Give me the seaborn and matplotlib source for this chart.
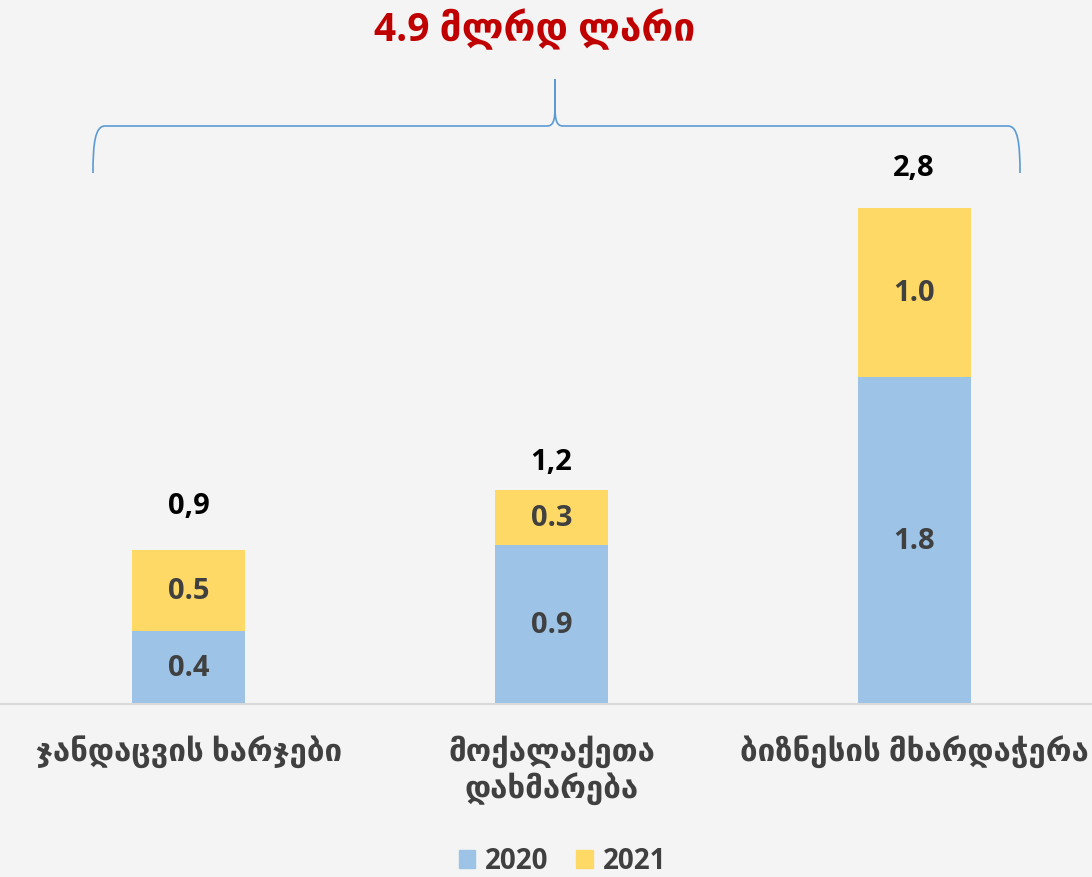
import matplotlib
matplotlib.use("Agg")
import matplotlib.pyplot as plt
import matplotlib.patches as mpatches
from matplotlib.path import Path
import pandas as pd
import seaborn as sns

categories = ["ჯანდაცვის ხარჯები", "მოქალაქეთა\nდახმარება", "ბიზნესის მხარდაჭერა"]
values_2020 = [0.41, 0.90, 1.85]
values_2021 = [0.46, 0.31, 0.95]
labels_2020 = ["0.4", "0.9", "1.8"]
labels_2021 = ["0.5", "0.3", "1.0"]
total_labels = ["0,9", "1,2", "2,8"]
title_text = "4.9 მლრდ ლარი"
series_names = ["2020", "2021"]

BG = "#F4F4F4"
BLUE = "#9DC3E6"
YELLOW = "#FFD966"
GRAY = "#404040"
FONTS = ["Open Sans", "DejaVu Sans"]

sns.set_style("white")
plt.rcParams["font.family"] = FONTS
plt.rcParams["font.weight"] = "bold"

W, H = 1092, 878
fig = plt.figure(figsize=(W / 100, H / 100), dpi=100, facecolor=BG)
ax = fig.add_axes([0.0, 1 - 705 / H, 1.0, (705 - 174) / H])
ax.set_facecolor(BG)

df = pd.DataFrame({
    "cat": categories,
    "v2020": values_2020,
    "v2021": values_2021,
})
df["total"] = df["v2020"] + df["v2021"]

bw = 0.312
sns.barplot(data=df, x="cat", y="total", color=YELLOW, saturation=1, width=bw,
            linewidth=0, ax=ax)
sns.barplot(data=df, x="cat", y="v2020", color=BLUE, saturation=1, width=bw,
            linewidth=0, ax=ax)

ax.set_xlim(-0.52, 2.49)
ax.set_ylim(0, 3.0)
for s in ["top", "left", "right"]:
    ax.spines[s].set_visible(False)
ax.spines["bottom"].set_color("#D9D9D9")
ax.spines["bottom"].set_linewidth(1.5)
ax.set_yticks([])
ax.set_xlabel("")
ax.set_ylabel("")
ax.tick_params(axis="x", length=0, pad=22)
ax.set_xticks(range(len(categories)))
ax.set_xticklabels(categories, fontsize=22.5, color=GRAY, fontweight="bold", linespacing=1.15, va="top")

# gap between bar top and total label (Excel placed them unevenly)
total_gap = [0.17, 0.08, 0.15]
for i in range(len(categories)):
    a, b = values_2020[i], values_2021[i]
    ax.text(i, a / 2, labels_2020[i], ha="center", va="center", fontsize=21, color=GRAY, fontweight="bold")
    ax.text(i, a + b / 2, labels_2021[i], ha="center", va="center", fontsize=21, color=GRAY, fontweight="bold")
    ax.text(i, a + b + total_gap[i], total_labels[i], ha="center", va="bottom", fontsize=21, color="black", fontweight="bold")

fig.text(535 / W, 1 - 30 / H, title_text, ha="center", va="center", fontsize=28, color="#C00000", fontweight="bold")

# brace above the bars, in pixel coordinates from the top-left
def px(x, y):
    return (x / W, 1 - y / H)

verts = [px(93, 174), px(93, 145), px(95, 127), px(105, 127),
         px(547, 127),
         px(553, 127), px(555, 122), px(555, 108),
         px(555, 80),
         px(555, 80), px(555, 108),
         px(555, 122), px(557, 127), px(563, 127),
         px(1008, 127),
         px(1018, 127), px(1020, 145), px(1020, 174)]
codes = [Path.MOVETO, Path.CURVE4, Path.CURVE4, Path.CURVE4,
         Path.LINETO,
         Path.CURVE4, Path.CURVE4, Path.CURVE4,
         Path.LINETO,
         Path.MOVETO, Path.LINETO,
         Path.CURVE4, Path.CURVE4, Path.CURVE4,
         Path.LINETO,
         Path.CURVE4, Path.CURVE4, Path.CURVE4]
brace = mpatches.PathPatch(Path(verts, codes), transform=fig.transFigure,
                           fill=False, edgecolor="#5B9BD5", linewidth=1.2)
fig.patches.append(brace)

handles = [mpatches.Patch(color=BLUE), mpatches.Patch(color=YELLOW)]
fig.legend(handles, series_names, loc="center", bbox_to_anchor=(0.515, 1 - 862 / H),
           ncol=2, frameon=False, handlelength=0.6, handleheight=0.6,
           handletextpad=0.35, columnspacing=1.0, labelcolor=GRAY,
           prop={"family": FONTS, "weight": "bold", "size": 20})

fig.savefig("out.png", dpi=100, facecolor=BG)
